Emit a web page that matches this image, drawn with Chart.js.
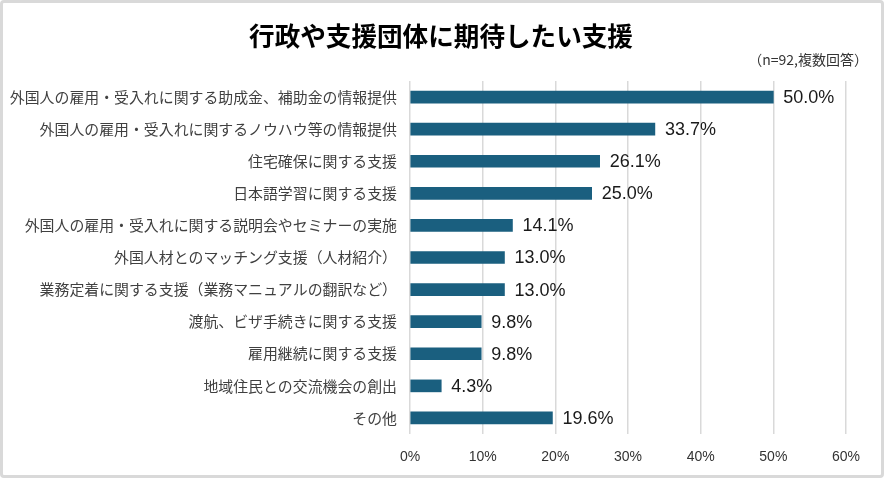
<!DOCTYPE html>
<html>
<head>
<meta charset="utf-8">
<script src="https://cdn.jsdelivr.net/npm/chart.js@4"></script>
<style>
  html, body { margin: 0; padding: 0; background: #fff; }
  #wrap { position: relative; width: 884px; height: 478px; }
  #frame { position: absolute; left: 0; top: 0; width: 884px; height: 478px; box-sizing: border-box;
           border: 3px solid #d9d9d9; border-radius: 4px; pointer-events: none; }
  canvas { position: absolute; left: 0; top: 0; }
</style>
</head>
<body>
<div id="wrap">
  <canvas id="chart" width="884" height="478"></canvas>
  <div id="frame"></div>
</div>
<script>
// データ
const titleText = '行政や支援団体に期待したい支援';
const noteText = '（n=92,複数回答）';
const categories = [
  '外国人の雇用・受入れに関する助成金、補助金の情報提供',
  '外国人の雇用・受入れに関するノウハウ等の情報提供',
  '住宅確保に関する支援',
  '日本語学習に関する支援',
  '外国人の雇用・受入れに関する説明会やセミナーの実施',
  '外国人材とのマッチング支援（人材紹介）',
  '業務定着に関する支援（業務マニュアルの翻訳など）',
  '渡航、ビザ手続きに関する支援',
  '雇用継続に関する支援',
  '地域住民との交流機会の創出',
  'その他'
];
const values = [50.0, 33.7, 26.1, 25.0, 14.1, 13.0, 13.0, 9.8, 9.8, 4.3, 19.6];
const xTicks = [0, 10, 20, 30, 40, 50, 60];

const barColor = '#1a5f7f';
const jpFont = '"Noto Sans CJK JP", "Noto Sans", sans-serif';
const numFont = '"Liberation Sans", Arial, sans-serif';

// タイトルと注記を描く
const headerPlugin = {
  id: 'header',
  afterDraw(chart) {
    const ctx = chart.ctx;
    ctx.save();
    ctx.fillStyle = '#000';
    ctx.font = 'bold 25.6px ' + jpFont;
    ctx.textAlign = 'center';
    ctx.textBaseline = 'middle';
    ctx.fillText(titleText, 441, 36);
    ctx.font = '14px ' + jpFont;
    ctx.textAlign = 'right';
    ctx.fillStyle = '#333';
    ctx.fillText(noteText, 868, 60);
    ctx.restore();
  }
};

// 棒の右に値ラベル
const valueLabels = {
  id: 'valueLabels',
  afterDatasetsDraw(chart) {
    const ctx = chart.ctx;
    const meta = chart.getDatasetMeta(0);
    ctx.save();
    ctx.font = '18px ' + numFont;
    ctx.fillStyle = '#1a1a1a';
    ctx.textAlign = 'left';
    ctx.textBaseline = 'middle';
    meta.data.forEach((bar, i) => {
      ctx.fillText(values[i].toFixed(1) + '%', bar.x + 10, bar.y + 1);
    });
    ctx.restore();
  }
};

new Chart(document.getElementById('chart'), {
  type: 'bar',
  data: {
    labels: categories,
    datasets: [{
      data: values,
      backgroundColor: barColor,
      borderWidth: 0,
      barThickness: 12
    }]
  },
  options: {
    indexAxis: 'y',
    responsive: false,
    animation: false,
    events: [],
    layout: { padding: { top: 81, right: 38, bottom: 0, left: 0 } },
    plugins: {
      legend: { display: false },
      tooltip: { enabled: false }
    },
    scales: {
      x: {
        min: 0,
        max: 60,
        afterBuildTicks: scale => { scale.ticks = xTicks.map(v => ({ value: v })); },
        afterFit: scale => { scale.height = 44; },
        grid: { color: '#d9d9d9', lineWidth: 1.5, drawTicks: false },
        border: { display: false },
        ticks: {
          padding: 15,
          color: '#333',
          font: { family: numFont, size: 14 },
          callback: v => v + '%'
        }
      },
      y: {
        afterFit: scale => { scale.width = 410; },
        grid: { display: false, drawTicks: false },
        border: { display: false },
        ticks: {
          padding: 13,
          color: '#404040',
          font: { family: jpFont, size: 14.9 },
          autoSkip: false
        }
      }
    }
  },
  plugins: [headerPlugin, valueLabels]
});
</script>
</body>
</html>
